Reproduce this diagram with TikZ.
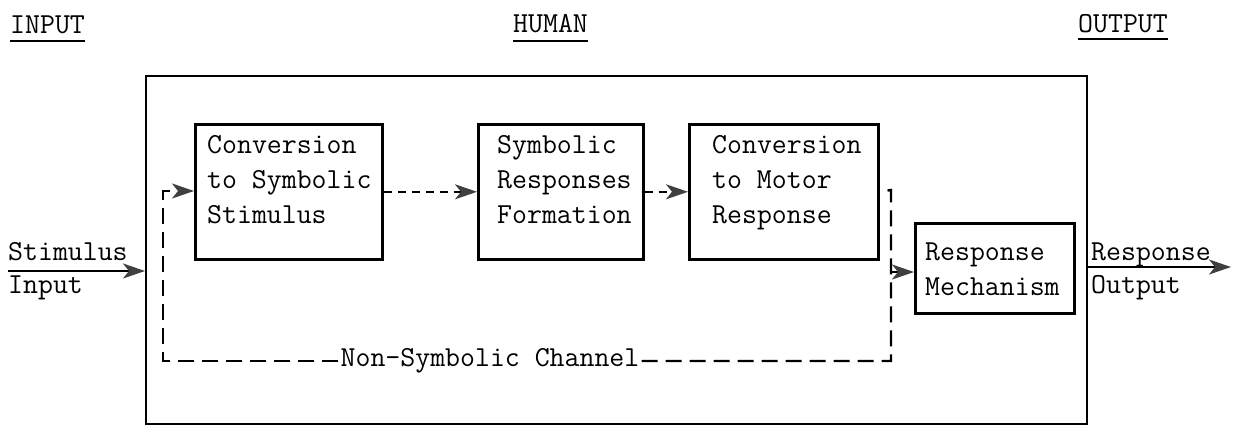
\documentclass[tikz,border=0pt]{standalone}
\usetikzlibrary{arrows.meta}
\begin{document}
\begin{tikzpicture}[x=1pt,y=-1pt,
  every node/.style={font=\fontsize{29}{35}\selectfont\ttfamily, inner sep=0pt},
  txt/.style={align=left, anchor=north west},
  lbl/.style={anchor=base west},
  blk/.style={draw, line width=2.6pt, anchor=north west},
  frame/.style={draw, line width=2.2pt, anchor=north west},
  tip/.style={-{Stealth[length=22pt,width=15pt,inset=6pt,color=black!75]}},
  sdash/.style={line width=2.2pt, dash pattern=on 8pt off 6pt},
  ldash/.style={line width=2.4pt, dash pattern=on 16pt off 8pt},
  solidarr/.style={line width=2.2pt},
  uline/.style={line width=1.8pt}
]
\useasboundingbox (0,0) rectangle (1233,426);

% outer frame
\node[frame, minimum width=941pt, minimum height=348pt] (human) at (145,75) {};

% blocks
\node[blk, minimum width=187pt, minimum height=135pt] (b1) at (194,123) {};
\node[blk, minimum width=165pt, minimum height=135pt] (b2) at (477,123) {};
\node[blk, minimum width=189pt, minimum height=135pt] (b3) at (688,123) {};
\node[blk, minimum width=159pt, minimum height=90pt] (b4) at (914,222) {};

\node[txt] (t1) at (207,135) {Conversion\\to Symbolic\\Stimulus};
\node[txt] (t2) at (497,135) {Symbolic\\Responses\\Formation};
\node[txt] (t3) at (712,135) {Conversion\\to Motor\\Response};
\node[txt] (t4) at (925,243) {Response\\Mechanism};

% headings
\node[lbl] (hin) at (10,33) {INPUT};
\node[lbl] (hhu) at (513,32) {HUMAN};
\node[lbl] (hout) at (1078,32) {OUTPUT};
\draw[uline] ([yshift=-8pt]hin.base west) -- ([yshift=-8pt]hin.base east);
\draw[uline] ([yshift=-9pt]hhu.base west) -- ([yshift=-9pt]hhu.base east);
\draw[uline] ([yshift=-7pt]hout.base west) -- ([yshift=-7pt]hout.base east);

% side labels
\node[lbl] (si1) at (8,260) {Stimulus};
\node[lbl] (si2) at (8,293) {Input};
\node[lbl] (ro1) at (1091,260) {Response};
\node[lbl] (ro2) at (1091,293) {Output};

% non-symbolic channel
\node[fill=white, inner xsep=2pt] (ns) at (490,361) {Non-Symbolic Channel};
\coordinate (lc) at (163,361);
\coordinate (lt) at (163,191);
\coordinate (rt) at (891,190);
\coordinate (rb) at (891,361);
\coordinate (rm) at (891,272);
\draw[ldash, tip] (ns.west) -- (lc) -- (lt) -- (lt -| b1.west);
\draw[ldash] (ns.east) -- (rb) -- (rt) -- (b3.east);

% symbolic chain
\draw[sdash, tip] (b1.east) -- (b2.west);
\draw[sdash, tip] (b2.east) -- (b3.west);
\draw[solidarr, tip] (rm) -- (rm -| b4.west);

% input / output
\coordinate (sin) at (8,271);
\coordinate (sout) at (1231,267);
\draw[solidarr, tip] (sin) -- (sin -| human.west);
\draw[solidarr, tip] (sout -| human.east) -- (sout);
\end{tikzpicture}
\end{document}
